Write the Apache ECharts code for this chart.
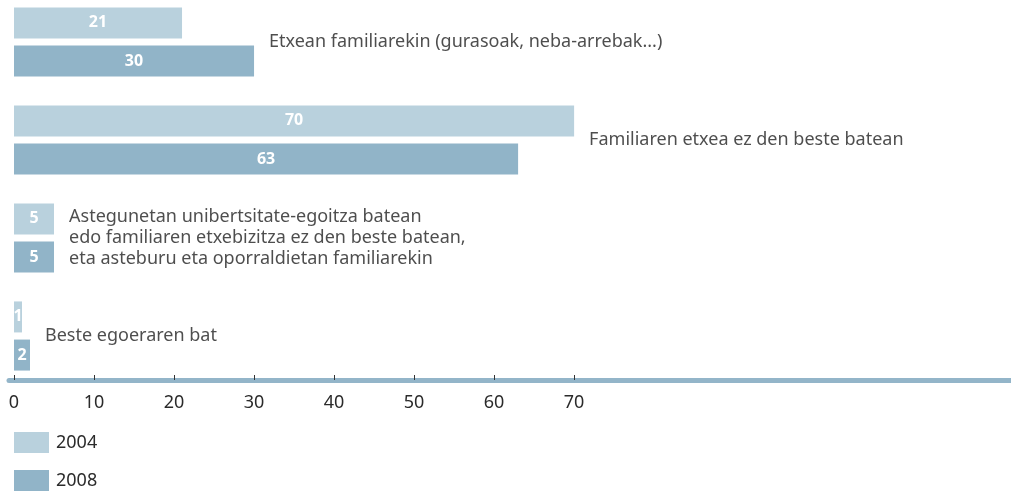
<!DOCTYPE html>
<html>
<head>
<meta charset="utf-8">
<script src="https://cdn.jsdelivr.net/npm/echarts@6/dist/echarts.min.js"></script>
<style>
  html, body { margin: 0; padding: 0; background: #fff; overflow: hidden; }
  /* grid-aren goiko ertza irudiaren gainetik hasten da: edukiontzia 7px gorago */
  #chart { position: absolute; left: 0; top: -7px; width: 1011px; height: 499px; }
</style>
</head>
<body>
<div id="chart"></div>
<script>
// datuak - hasiera
var categories = [
    'Etxean familiarekin (gurasoak, neba-arrebak...)',
    'Familiaren etxea ez den beste batean',
    'Astegunetan unibertsitate-egoitza batean\nedo familiaren etxebizitza ez den beste batean,\neta asteburu eta oporraldietan familiarekin',
    'Beste egoeraren bat'
];
var years = ['2004', '2008'];
var values2004 = [21, 70, 5, 1];
var values2008 = [30, 63, 5, 2];
var tickValues = [0, 10, 20, 30, 40, 50, 60, 70];
// datuak - amaiera

var textFont = '"Noto Sans", sans-serif';

// kategoria bakoitzaren testua barra luzeenaren ondoan
var labelPos = [];
for (var i = 0; i <= (categories.length - 1); i++) {
    labelPos.push(Math.max(values2004[i], values2008[i]));
}

var chart = echarts.init(document.getElementById('chart'));

var barLabel = {
    show: true,
    position: 'inside',
    color: '#fff',
    fontFamily: textFont,
    fontWeight: 'bold',
    fontSize: 16
};

var option = {
    animation: false,
    grid: { left: 9, right: 0, top: 0, bottom: 107 },
    legend: {
        data: years,
        orient: 'vertical',
        left: 14,
        top: 439,
        padding: 0,
        itemWidth: 35,
        itemHeight: 21,
        itemGap: 17,
        icon: 'rect',
        textStyle: { fontFamily: textFont, fontSize: 18, color: '#2b2b2b', padding: [0, 0, 0, 2] }
    },
    xAxis: {
        type: 'value',
        min: -0.625,
        max: 124.6,
        offset: -5,
        axisLine: { show: true, lineStyle: { color: '#93b5c9', width: 5 } },
        axisTick: {
            show: true,
            inside: true,
            length: 5,
            customValues: tickValues,
            lineStyle: { color: '#333', width: 1 }
        },
        axisLabel: {
            customValues: tickValues,
            margin: 14,
            fontFamily: textFont,
            fontSize: 18,
            color: '#2b2b2b'
        },
        splitLine: { show: false }
    },
    yAxis: {
        type: 'category',
        inverse: true,
        data: categories,
        axisLine: { show: false },
        axisTick: { show: false },
        axisLabel: { show: false }
    },
    series: [
        {
            name: years[0],
            type: 'bar',
            data: values2004,
            barWidth: 31,
            barGap: '23%',
            itemStyle: { color: '#b9d1dd' },
            label: barLabel
        },
        {
            name: years[1],
            type: 'bar',
            data: values2008,
            barWidth: 31,
            itemStyle: { color: '#91b4c8' },
            label: barLabel
        },
        {
            name: 'testuak',
            type: 'scatter',
            data: labelPos,
            symbolSize: 0,
            silent: true,
            label: {
                show: true,
                position: 'right',
                distance: 15,
                formatter: function (p) { return categories[p.dataIndex]; },
                fontFamily: textFont,
                fontSize: 18,
                lineHeight: 21,
                color: '#222'
            }
        }
    ]
};
chart.setOption(option);
</script>
</body>
</html>
